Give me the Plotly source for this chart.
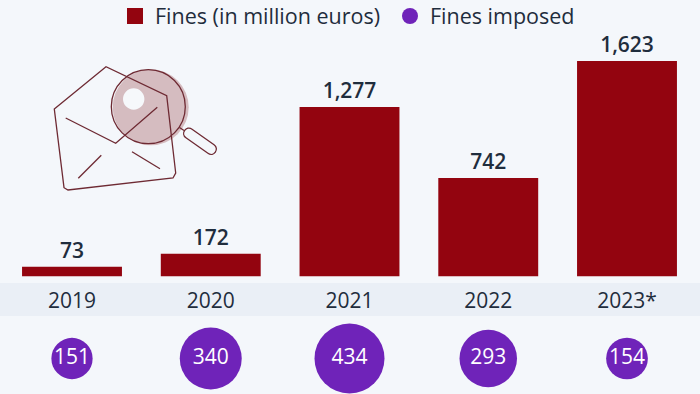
import plotly.graph_objects as go

years = ["2019", "2020", "2021", "2022", "2023*"]
fines = [73, 172, 1277, 742, 1623]
imposed = [151, 340, 434, 293, 154]
value_labels = ["73", "172", "1,277", "742", "1,623"]

W, H = 700, 394
BG = "#f4f7fb"
BAND = "#eaeff6"
RED = "#93040f"
PURPLE = "#6f23b9"
INK = "#1f2d3d"
LINE = "#6e2a33"
FONT = "Open Sans"


def px(x):
    return x / W


def py(y):
    return 1 - y / H


def pt(x, y):
    return f"{px(x):.5f},{py(y):.5f}"


def path_shape(points, close=False, **kw):
    d = "M" + " L".join(pt(x, y) for x, y in points)
    if close:
        d += " Z"
    return dict(type="path", xref="paper", yref="paper", path=d,
                line=dict(color=LINE, width=1.3), **kw)


def circle_shape(cx, cy, r, fill=None, line=None):
    return dict(type="circle", xref="paper", yref="paper",
                x0=px(cx - r), x1=px(cx + r), y0=py(cy + r), y1=py(cy - r),
                fillcolor=fill or "rgba(0,0,0,0)",
                line=dict(color=line or "rgba(0,0,0,0)", width=1.3 if line else 0))


def capsule_shape(x0, y0, x1, y1, r):
    L = ((x1 - x0) ** 2 + (y1 - y0) ** 2) ** 0.5
    ux, uy = (x1 - x0) / L, (y1 - y0) / L
    nx, ny = -uy, ux
    k = 1.33 * r
    d = ("M" + pt(x0 + nx * r, y0 + ny * r)
         + " L" + pt(x1 + nx * r, y1 + ny * r)
         + " C" + pt(x1 + nx * r + ux * k, y1 + ny * r + uy * k)
         + " " + pt(x1 - nx * r + ux * k, y1 - ny * r + uy * k)
         + " " + pt(x1 - nx * r, y1 - ny * r)
         + " L" + pt(x0 - nx * r, y0 - ny * r)
         + " C" + pt(x0 - nx * r - ux * k, y0 - ny * r - uy * k)
         + " " + pt(x0 + nx * r - ux * k, y0 + ny * r - uy * k)
         + " " + pt(x0 + nx * r, y0 + ny * r) + " Z")
    return dict(type="path", xref="paper", yref="paper", path=d,
                line=dict(color=LINE, width=1.3))


shapes = [
    dict(type="rect", xref="paper", yref="paper", layer="below", x0=0, x1=1,
         y0=py(316), y1=py(283), fillcolor=BAND, line=dict(width=0)),
    circle_shape(150.7, 107.3, 38, fill="#d5bcc0"),
    circle_shape(133.7, 99, 10.7, fill="#f6f8fb"),
    path_shape([(54.3, 109), (106, 66.7), (166.7, 95.7), (175.7, 173), (173, 178),
                (68, 190), (64, 187.7)], close=True),
    path_shape([(65.7, 118), (115.7, 143.3), (157.3, 107.3)]),
    path_shape([(78.3, 178.3), (101.3, 155.3)]),
    path_shape([(132, 151.7), (160, 168.7)]),
    circle_shape(148.3, 106.7, 37, line=LINE),
    path_shape([(179.5, 127.5), (184, 130.5)]),
    capsule_shape(189, 133.5, 211, 149, 5.3),
]

fig = go.Figure()
fig.add_trace(go.Bar(
    x=years, y=fines, name="Fines (in million euros)", width=0.72, showlegend=False,
    marker=dict(color=RED, line=dict(width=0)),
    text=value_labels, textposition="outside", cliponaxis=False,
    textfont=dict(family=FONT, size=21, color=INK, weight=600),
    hoverinfo="skip",
))
fig.add_trace(go.Scatter(
    x=[None], y=[None], name="Fines (in million euros)", mode="markers",
    marker=dict(color=RED, symbol="square", size=16, opacity=1), legend="legend",
    hoverinfo="skip",
))
fig.add_trace(go.Scatter(
    x=[None], y=[None], name="Fines imposed", mode="markers",
    marker=dict(color=PURPLE, symbol="circle", size=16, opacity=1), legend="legend2",
    hoverinfo="skip",
))
fig.add_trace(go.Scatter(
    x=years, y=[0] * len(years), yaxis="y2", name="Fines imposed",
    mode="markers+text", cliponaxis=False, showlegend=False,
    marker=dict(color=PURPLE, size=imposed, sizemode="area", opacity=1,
                sizeref=2 * max(imposed) / 70 ** 2, line=dict(width=0)),
    text=[str(v) for v in imposed], textposition="middle center",
    textfont=dict(family=FONT, size=21, color="white", weight=500),
    hoverinfo="skip",
))

step = 138.75
first = 72
legend_common = dict(xanchor="left", yanchor="middle", bgcolor="rgba(0,0,0,0)",
                     itemsizing="trace", itemwidth=30,
                     font=dict(family=FONT, size=21.5, color=INK))
fig.update_layout(
    width=W, height=H, autosize=False,
    margin=dict(l=0, r=0, t=0, b=0, autoexpand=False),
    paper_bgcolor=BG, plot_bgcolor="rgba(0,0,0,0)",
    font=dict(family=FONT, color=INK),
    showlegend=True,
    legend=dict(x=px(115), y=py(16), **legend_common),
    legend2=dict(x=px(390), y=py(16), **legend_common),
    xaxis=dict(type="category", categoryorder="array", categoryarray=years,
               range=[-first / step, (W - first) / step],
               showgrid=False, zeroline=False, showline=False,
               ticks="outside", ticklen=5, tickcolor="rgba(0,0,0,0)",
               tickfont=dict(family=FONT, size=21, color=INK),
               domain=[0, 1], anchor="y"),
    yaxis=dict(domain=[(H - 276.5) / H, 1], range=[0, 1623 * 276.5 / 215.5],
               visible=False, fixedrange=True),
    yaxis2=dict(domain=[0, (H - 323) / H], range=[-1, 1], visible=False, anchor="x"),
    shapes=shapes,
)

fig.write_html("out.html", config=dict(displayModeBar=False),
               post_script="document.body.style.margin='0';document.body.style.background='" + BG + "';")
